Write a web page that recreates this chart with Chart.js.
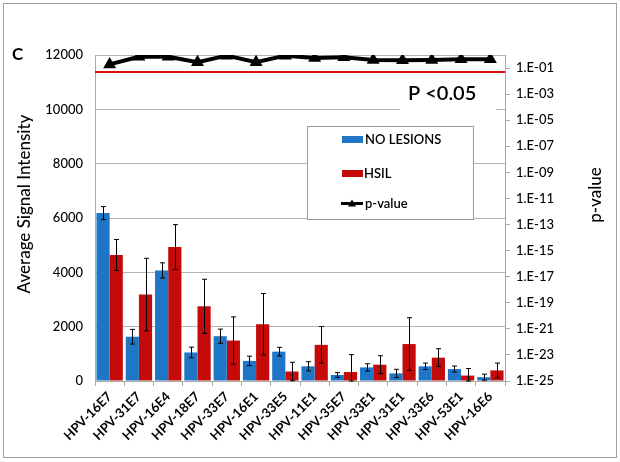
<!DOCTYPE html>
<html>
<head>
<meta charset="utf-8">
<script src="https://cdn.jsdelivr.net/npm/chart.js@4.4.1/dist/chart.umd.min.js"></script>
<style>
html,body{margin:0;padding:0;background:#fff;}
#wrap{width:620px;height:462px;position:relative;}
</style>
</head>
<body>
<div id="wrap"><canvas id="c" width="620" height="462"></canvas></div>
<script>
const categories = ['HPV-16E7','HPV-31E7','HPV-16E4','HPV-18E7','HPV-33E7','HPV-16E1','HPV-33E5','HPV-11E1','HPV-35E7','HPV-33E1','HPV-31E1','HPV-33E6','HPV-53E1','HPV-16E6'];
const noLesions = [6180, 1630, 4070, 1050, 1650, 740, 1080, 540, 220, 500, 280, 540, 440, 140];
const noLesionsErr = [240, 270, 280, 195, 260, 175, 160, 170, 90, 135, 150, 120, 110, 110];
const hsil = [4640, 3180, 4930, 2750, 1490, 2090, 350, 1330, 330, 600, 1360, 860, 200, 390];
const hsilErr = [570, 1335, 825, 995, 870, 1130, 340, 675, 640, 330, 970, 330, 260, 270];
const pValues = [0.19, 0.74, 0.74, 0.28, 0.89, 0.28, 0.89, 0.59, 0.66, 0.41, 0.39, 0.41, 0.47, 0.47];
const leftTicks = [0, 2000, 4000, 6000, 8000, 10000, 12000];
const rightTickExps = [-1, -3, -5, -7, -9, -11, -13, -15, -17, -19, -21, -23, -25];
const threshold = 0.05;

const BLUE = '#1F76C6';
const RED = '#C50A0A';
const FONT = 'Lato, "Open Sans", sans-serif';

const errPlugin = {
  id: 'errbars',
  beforeDatasetsDraw(chart) {
    const {ctx, chartArea} = chart;
    const y1 = chart.scales.y1;
    ctx.save();
    ctx.fillStyle = '#fff';
    ctx.fillRect(400, 76, 96, 38);
    ctx.fillRect(308, 127, 165, 93);
    ctx.strokeStyle = '#9a9a9a';
    ctx.lineWidth = 1;
    ctx.strokeRect(307.5, 126.5, 166, 93);
    const yp = y1.getPixelForValue(threshold);
    ctx.strokeStyle = '#E01010';
    ctx.lineWidth = 2;
    ctx.beginPath();
    ctx.moveTo(chartArea.left, yp);
    ctx.lineTo(chartArea.right, yp);
    ctx.stroke();
    ctx.restore();
  },
  afterDatasetsDraw(chart) {
    const {ctx} = chart;
    const y = chart.scales.y;
    const sets = [[0, noLesions, noLesionsErr], [1, hsil, hsilErr]];
    ctx.save();
    ctx.strokeStyle = '#000';
    ctx.lineWidth = 1;
    sets.forEach(([idx, vals, errs]) => {
      const meta = chart.getDatasetMeta(idx);
      meta.data.forEach((bar, i) => {
        const x = Math.round(bar.x) + 0.5;
        const top = y.getPixelForValue(vals[i] + errs[i]);
        const bot = y.getPixelForValue(Math.max(0, vals[i] - errs[i]));
        ctx.beginPath();
        ctx.moveTo(x, top); ctx.lineTo(x, bot);
        ctx.moveTo(x - 2.5, top); ctx.lineTo(x + 2.5, top);
        ctx.moveTo(x - 2.5, bot); ctx.lineTo(x + 2.5, bot);
        ctx.stroke();
      });
    });
    ctx.restore();
  },
  afterDraw(chart) {
    const {ctx} = chart;
    const ds = chart.data.datasets;
    ctx.save();
    ctx.strokeStyle = '#a0a0a0';
    ctx.lineWidth = 1;
    ctx.strokeRect(3.5, 3.5, 613, 454);
    ctx.textBaseline = 'middle';
    ctx.textAlign = 'left';
    ctx.font = '600 13px ' + FONT;
    ctx.fillStyle = ds[0].backgroundColor;
    ctx.fillRect(342, 136, 21, 7);
    ctx.fillStyle = ds[1].backgroundColor;
    ctx.fillRect(342, 170, 21, 7);
    ctx.strokeStyle = ds[2].borderColor;
    ctx.lineWidth = 3;
    ctx.beginPath(); ctx.moveTo(341, 203.5); ctx.lineTo(363, 203.5); ctx.stroke();
    ctx.fillStyle = '#000';
    ctx.beginPath(); ctx.moveTo(352, 199.5); ctx.lineTo(356, 206.5); ctx.lineTo(348, 206.5); ctx.closePath(); ctx.fill();
    ctx.fillText(ds[0].label, 365, 140);
    ctx.fillText(ds[1].label, 364, 174);
    ctx.fillText(ds[2].label, 365, 204);
    ctx.font = '600 20px ' + FONT;
    ctx.fillText('P <0.05', 408, 94);
    ctx.font = 'bold 17px ' + FONT;
    ctx.fillText('C', 12, 55);
    ctx.font = '500 17px ' + FONT;
    ctx.textAlign = 'center';
    ctx.save();
    ctx.translate(25, 204);
    ctx.rotate(-Math.PI / 2);
    ctx.fillText('Average Signal Intensity', 0, 0);
    ctx.restore();
    ctx.save();
    ctx.translate(596, 195);
    ctx.rotate(-Math.PI / 2);
    ctx.fillText('p-value', 0, 0);
    ctx.restore();
    ctx.restore();
  }
};

new Chart(document.getElementById('c'), {
  type: 'bar',
  data: {
    labels: categories,
    datasets: [
      {label: 'NO LESIONS', data: noLesions, backgroundColor: BLUE, yAxisID: 'y', order: 2, barPercentage: 1.0, categoryPercentage: 0.9},
      {label: 'HSIL', data: hsil, backgroundColor: RED, yAxisID: 'y', order: 3, barPercentage: 1.0, categoryPercentage: 0.9},
      {label: 'p-value', type: 'line', data: pValues, yAxisID: 'y1', order: 0, borderColor: '#000', backgroundColor: '#000', borderWidth: 4, tension: 0, pointStyle: 'triangle', pointRadius: 3.5, pointBackgroundColor: '#000', pointBorderColor: '#000'}
    ]
  },
  options: {
    responsive: false,
    animation: false,
    events: [],
    layout: {padding: {top: 55, left: 0, right: 0, bottom: 0}},
    plugins: {legend: {display: false}, tooltip: {enabled: false}},
    scales: {
      x: {
        offset: true,
        grid: {display: true, drawOnChartArea: false, offset: true, tickLength: 5, color: '#a8a8a8'},
        border: {color: '#a8a8a8'},
        ticks: {maxRotation: 45, minRotation: 45, autoSkip: false, color: '#000', font: {family: FONT, size: 13, weight: 'bold'}, padding: 3},
        afterFit(s) { s.height = 81; }
      },
      y: {
        position: 'left',
        min: 0, max: 12000,
        afterBuildTicks(s) { s.ticks = leftTicks.map(v => ({value: v})); },
        grid: {color: '#b4b4b4', drawTicks: false},
        border: {color: '#a8a8a8'},
        ticks: {color: '#000', font: {family: FONT, size: 13, weight: '500'}, padding: 12, callback(v) { return String(v); }},
        afterFit(s) { s.width = 95; }
      },
      y1: {
        type: 'logarithmic',
        position: 'right',
        min: 1e-25, max: 1,
        afterBuildTicks(s) { s.ticks = rightTickExps.map(e => ({value: Math.pow(10, e)})); },
        grid: {drawOnChartArea: false, tickLength: 5, color: '#a8a8a8'},
        border: {color: '#a8a8a8'},
        ticks: {
          color: '#000', font: {family: FONT, size: 13, weight: '500'}, padding: 6,
          callback(v) { const e = Math.round(Math.log10(v)); const a = Math.abs(e); return '1.E' + (e < 0 ? '-' : '+') + (a < 10 ? '0' + a : a); }
        },
        afterFit(s) { s.width = 115; }
      }
    }
  },
  plugins: [errPlugin]
});
</script>
</body>
</html>
